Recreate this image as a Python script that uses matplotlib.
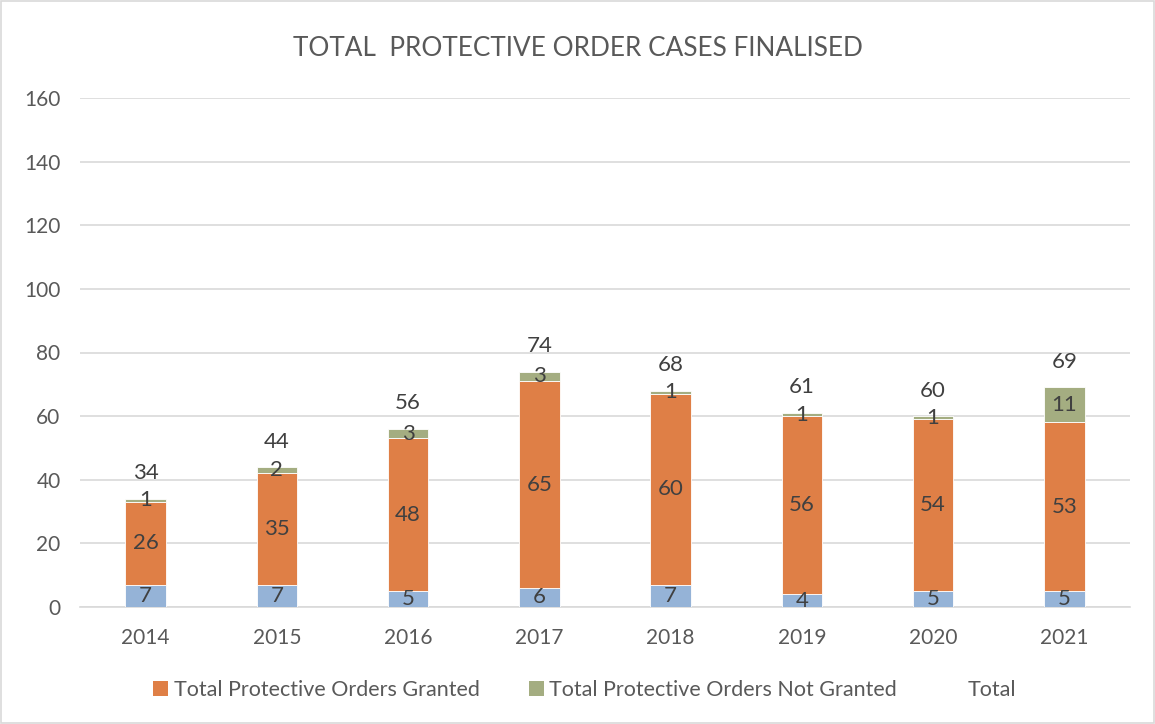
import matplotlib
matplotlib.use("Agg")
import matplotlib.pyplot as plt
from matplotlib.patches import Rectangle, Patch
import numpy as np

years = ["2014", "2015", "2016", "2017", "2018", "2019", "2020", "2021"]
other = [7, 7, 5, 6, 7, 4, 5, 5]
granted = [26, 35, 48, 65, 60, 56, 54, 53]
not_granted = [1, 2, 3, 3, 1, 1, 1, 11]
total = [34, 44, 56, 74, 68, 61, 60, 69]
yticks = [0, 20, 40, 60, 80, 100, 120, 140, 160]

plt.rcParams['font.family'] = ['Lato', 'DejaVu Sans']

c_blue = '#95B3D7'
c_orange = '#DF7F46'
c_green = '#A4AD81'
txt_gray = '#595959'
lbl_col = '#404040'

fig = plt.figure(figsize=(11.55, 7.24), dpi=100)
fig.patches.append(Rectangle((0.001, 0.001), 0.998, 0.998, transform=fig.transFigure,
                             fill=False, edgecolor='#D9D9D9', linewidth=1.2))
ax = fig.add_axes([80/1155, 1-607/724, 1050/1155, (607-98)/724])

x = np.arange(len(years))
w = 0.31
ax.bar(x, other, w, color=c_blue, edgecolor='white', linewidth=0.6, zorder=3)
ax.bar(x, granted, w, bottom=other, color=c_orange, edgecolor='white', linewidth=0.6, zorder=3)
bot3 = np.array(other) + np.array(granted)
ax.bar(x, not_granted, w, bottom=bot3, color=c_green, edgecolor='white', linewidth=0.6, zorder=3)

fs = 16
for xi, v in zip(x, other):
    ax.text(xi, v / 2, str(v), ha='center', va='center', fontsize=fs, color=lbl_col, zorder=4)
for xi, v, b in zip(x, granted, other):
    ax.text(xi, b + v / 2, str(v), ha='center', va='center', fontsize=fs, color=lbl_col, zorder=4)
for xi, v, b in zip(x, not_granted, bot3):
    ax.text(xi, b + v / 2, str(v), ha='center', va='center', fontsize=fs, color=lbl_col, zorder=4)
for xi, t in zip(x, total):
    ax.text(xi, t + 8.0, str(t), ha='center', va='center', fontsize=fs, color=lbl_col, zorder=4)

ax.set_xlim(-0.5, len(years) - 0.5)
ax.set_ylim(0, 160)
ax.set_yticks(yticks)
ax.set_yticklabels([str(v) for v in yticks])
ax.set_xticks(x)
ax.set_xticklabels(years)
ax.tick_params(axis='both', length=0, labelsize=15, colors=txt_gray)
ax.tick_params(axis='y', pad=14)
ax.tick_params(axis='x', pad=15)
ax.grid(axis='y', color='#D9D9D9', linewidth=1.2, zorder=0)
for s in ['top', 'right', 'left']:
    ax.spines[s].set_visible(False)
ax.spines['bottom'].set_color('#D9D9D9')
ax.spines['bottom'].set_linewidth(1.2)

fig.text(0.5, 1 - 48/724, "TOTAL  PROTECTIVE ORDER CASES FINALISED", ha='center', va='center',
         fontsize=18.8, color=txt_gray)

handles = [Patch(facecolor=c_orange), Patch(facecolor=c_green), Patch(facecolor='none', edgecolor='none')]
labels = ["Total Protective Orders Granted", "Total Protective Orders Not Granted", "Total"]
fig.legend(handles, labels, loc='center', bbox_to_anchor=(0.506, 1 - 690/724), ncol=3, frameon=False,
           fontsize=15.5, labelcolor=txt_gray, handlelength=0.7, handleheight=0.7, handletextpad=0.25,
           columnspacing=2.3)

fig.savefig("out.png", dpi=100)
